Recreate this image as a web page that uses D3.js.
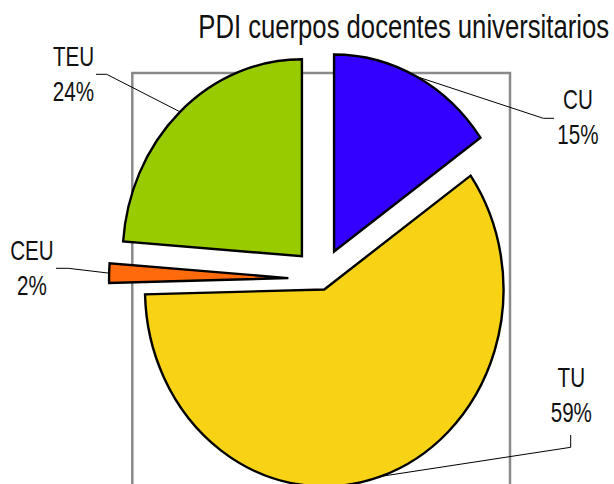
<!DOCTYPE html>
<html>
<head>
<meta charset="utf-8">
<script src="https://cdn.jsdelivr.net/npm/d3@7"></script>
<style>
  html, body { margin: 0; padding: 0; background: #fff; }
  text { font-family: "Liberation Sans", Arial, sans-serif; fill: #111; }
</style>
</head>
<body>
<script>
// data (labels are the rounded shares)
var categories = ["CU", "TU", "CEU", "TEU"];
var shares = [15.2, 59.4, 1.6, 23.8];
var colors = ["#3300FF", "#F8D315", "#FF6A0D", "#99CC00"];
var title = "PDI cuerpos docentes universitarios";

// how far each slice is pulled out of the pie
var explodeBy = [31, 11, 36, 31];

// label anchor + leader elbow (layout only)
var labelLayout = {
    CU:  { x: 578,  y: 109,   elbow: [[554, 118.3], [543.3, 118.3]] },
    TU:  { x: 571.3, y: 387.3, elbow: [[570.7, 435], [570.7, 447.3]] },
    CEU: { x: 32,   y: 260,   elbow: [[56, 268.3], [68.3, 268.3]] },
    TEU: { x: 73.5, y: 65.7,  elbow: [[96, 74.3], [106.7, 74.3]] }
};

var W = 614, H = 484;
var cx = 321.1, cy = 279, R = 197, sx = 0.91;   // pie is drawn a bit squashed, like the original

var data = categories.map(function(c, i){
    return { name: c, value: shares[i], color: colors[i], explode: explodeBy[i] };
});

var svg = d3.select("body").append("svg").attr("width", W).attr("height", H);

// plot area frame
svg.append("rect")
    .attr("x", 132.3).attr("y", 73)
    .attr("width", 510 - 132.3).attr("height", 460)
    .attr("fill", "none").attr("stroke", "#8a8a8a").attr("stroke-width", 2.5);

var pie = d3.pie().sort(null).value(function(d){ return d.value; });
var arc = d3.arc().innerRadius(0).outerRadius(R);
var arcs = pie(data);

function mid(d){ return (d.startAngle + d.endAngle) / 2; }

var g = svg.append("g").attr("transform", "translate(" + cx + "," + cy + ") scale(" + sx + ",1)");
g.selectAll("path.slice").data(arcs).join("path")
    .attr("class", "slice")
    .attr("transform", function(d){
        var m = mid(d), e = d.data.explode;
        return "translate(" + (Math.sin(m) * e) + "," + (-Math.cos(m) * e) + ")";
    })
    .attr("d", arc)
    .attr("fill", function(d){ return d.data.color; })
    .attr("stroke", "#000")
    .attr("stroke-width", 2.4)
    .attr("stroke-linejoin", "miter")
    .attr("vector-effect", "non-scaling-stroke");

// leader lines
var line = d3.line();
svg.selectAll("path.leader").data(arcs).join("path")
    .attr("class", "leader")
    .attr("d", function(d){
        var m = mid(d), r = R + d.data.explode;
        var tip = [cx + sx * Math.sin(m) * r, cy - Math.cos(m) * r];
        return line(labelLayout[d.data.name].elbow.concat([tip]));
    })
    .attr("fill", "none").attr("stroke", "#000").attr("stroke-width", 1);

// text helper: narrow text via horizontal scale
function putText(x, y, str, size, anchor, squeeze){
    return svg.append("text")
        .attr("transform", "translate(" + x + "," + y + ") scale(" + squeeze + ",1)")
        .attr("text-anchor", anchor)
        .attr("font-size", size)
        .text(str);
}

arcs.forEach(function(d){
    var L = labelLayout[d.data.name];
    putText(L.x, L.y, d.data.name, 27.5, "middle", 0.75);
    putText(L.x, L.y + 35, Math.round(d.data.value) + "%", 27.5, "middle", 0.75);
});

putText(609, 38.3, title, 32.5, "end", 0.79);
</script>
</body>
</html>
